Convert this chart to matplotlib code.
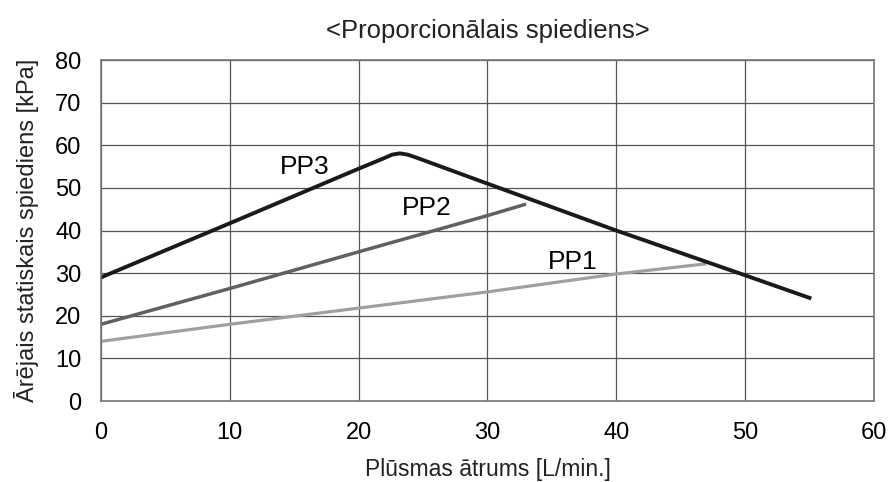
import matplotlib.pyplot as plt

plt.rcParams['font.family'] = ['Liberation Sans', 'DejaVu Sans']

# Flow rate [L/min] vs external static pressure [kPa]
pp1_x = [0, 10, 20, 30, 40, 47]
pp1_y = [14, 18, 21.8, 25.6, 29.8, 32.2]

pp2_x = [0, 10, 20, 30, 33]
pp2_y = [18, 26.4, 35, 43.5, 46.2]

pp3_x = [0, 10, 20, 22, 22.6, 23.2, 23.8, 24.4, 30, 40, 50, 55]
pp3_y = [29, 41.7, 54.5, 57.0, 57.8, 58.1, 57.8, 57.2, 51, 40, 29.5, 24.2]

fig, ax = plt.subplots(figsize=(8.89, 4.82), dpi=100)
fig.subplots_adjust(left=0.1136, right=0.983, top=0.8755, bottom=0.168)

ax.plot(pp1_x, pp1_y, color='#a0a0a0', lw=2.3, solid_capstyle='butt')
ax.plot(pp2_x, pp2_y, color='#606060', lw=2.5, solid_capstyle='butt')
ax.plot(pp3_x, pp3_y, color='#1a1a1a', lw=2.8, solid_joinstyle='round')

ax.text(15.8, 55.0, 'PP3', fontsize=19, ha='center', va='center')
ax.text(25.3, 45.3, 'PP2', fontsize=19, ha='center', va='center')
ax.text(36.6, 32.6, 'PP1', fontsize=19, ha='center', va='center')

ax.set_xlim(0, 60)
ax.set_ylim(0, 80)
ax.set_xticks(range(0, 61, 10))
ax.set_yticks(range(0, 81, 10))
ax.grid(True, color='#555555', lw=0.9)
ax.set_axisbelow(True)
ax.tick_params(length=0, labelsize=17, color='#222222')
ax.tick_params(axis='x', pad=15)
ax.tick_params(axis='y', pad=14)
for s in ax.spines.values():
    s.set_color('#777777')
    s.set_linewidth(1.2)

ax.set_title('<Proporcionālais spiediens>', fontsize=18.5, pad=16, color='#222222')
ax.set_xlabel('Plūsmas ātrums [L/min.]', fontsize=16.5, labelpad=10, color='#222222')
ax.set_ylabel('Ārējais statiskais spiediens [kPa]', fontsize=17, labelpad=12, color='#222222')

fig.savefig('out.png')
